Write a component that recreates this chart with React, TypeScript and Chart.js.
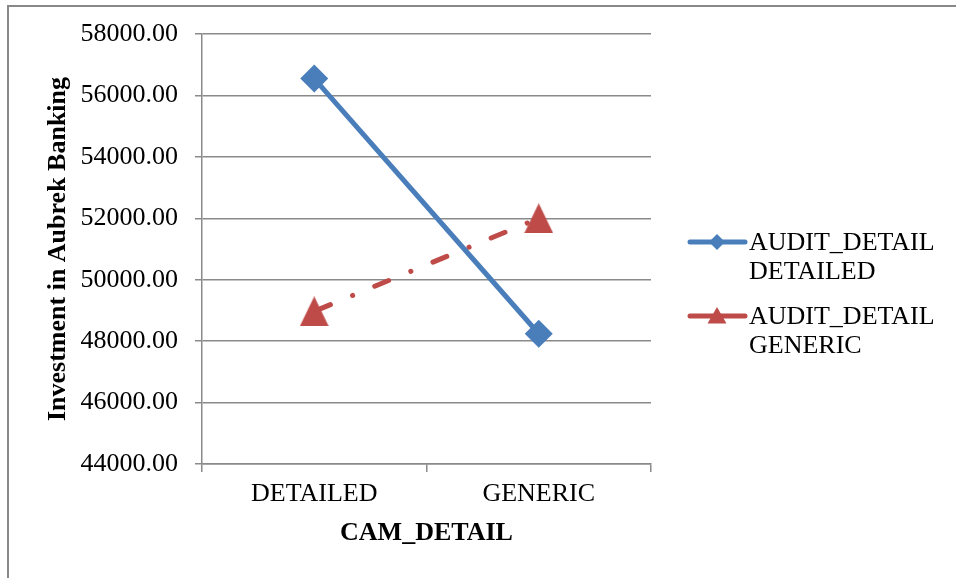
import React, { useEffect, useRef } from 'react';
import { Chart, registerables } from 'chart.js';

Chart.register(...registerables);

const categories = ['DETAILED', 'GENERIC'];
const seriesNames = ['AUDIT_DETAIL DETAILED', 'AUDIT_DETAIL GENERIC'];
const detailedValues = [56550, 48240];
const genericValues = [48970, 52000];
const yMin = 44000;
const yMax = 58000;
const yStep = 2000;
const xTitle = 'CAM_DETAIL';
const yTitle = 'Investment in Aubrek Banking';

const FONT = "'Liberation Serif', 'Times New Roman', serif";
const FS = 26;
const GRID = '#8a8a8a';
const BLUE = '#4a7ebb';
const RED = '#be4b48';

function makeTriangle(w: number, h: number, color: string) {
  const c = document.createElement('canvas');
  c.width = w;
  c.height = h;
  const g = c.getContext('2d')!;
  g.fillStyle = color;
  g.beginPath();
  g.moveTo(w / 2, 0);
  g.lineTo(w, h);
  g.lineTo(0, h);
  g.closePath();
  g.fill();
  return c;
}

const legendPlugin = {
  id: 'customLegend',
  afterDraw(chart: any) {
    const ctx = chart.ctx as CanvasRenderingContext2D;
    ctx.save();
    chart.data.datasets.forEach((ds: any, i: number) => {
      const lineY = 242 + i * 74;
      const x0 = 690;
      const x1 = 745;
      const mx = 717;
      ctx.strokeStyle = ds.borderColor;
      ctx.lineWidth = 5;
      ctx.lineCap = 'round';
      ctx.setLineDash([]);
      ctx.beginPath();
      ctx.moveTo(x0, lineY);
      ctx.lineTo(x1, lineY);
      ctx.stroke();
      ctx.fillStyle = ds.borderColor;
      ctx.beginPath();
      if (i === 0) {
        const r = 8;
        ctx.moveTo(mx - r, lineY);
        ctx.lineTo(mx, lineY - r);
        ctx.lineTo(mx + r, lineY);
        ctx.lineTo(mx, lineY + r);
      } else {
        ctx.moveTo(mx, lineY - 9);
        ctx.lineTo(mx + 9.5, lineY + 7.5);
        ctx.lineTo(mx - 9.5, lineY + 7.5);
      }
      ctx.closePath();
      ctx.fill();
      ctx.fillStyle = '#000';
      ctx.font = `${FS}px ${FONT}`;
      ctx.textAlign = 'left';
      ctx.textBaseline = 'middle';
      const parts = String(ds.label).split(' ');
      parts.forEach((p: string, j: number) => {
        ctx.fillText(p, 749, lineY + 1 + j * 29);
      });
    });
    ctx.restore();
  },
};

export default function App() {
  const ref = useRef<HTMLCanvasElement | null>(null);
  useEffect(() => {
    if (!ref.current) return;
    const tri = makeTriangle(29, 30, RED);
    const chart = new Chart(ref.current, {
      type: 'line',
      data: {
        labels: categories,
        datasets: [
          {
            label: seriesNames[0],
            data: detailedValues,
            borderColor: BLUE,
            backgroundColor: BLUE,
            borderWidth: 5,
            pointStyle: 'rectRot',
            pointRadius: 14,
            pointBorderWidth: 0,
            pointBackgroundColor: BLUE,
            pointBorderColor: BLUE,
            fill: false,
            tension: 0,
          },
          {
            label: seriesNames[1],
            data: genericValues,
            borderColor: RED,
            backgroundColor: RED,
            borderWidth: 5,
            borderDash: [15, 24, 0.1, 23.9],
            borderDashOffset: -2.5,
            borderCapStyle: 'round',
            pointStyle: tri,
            pointRadius: 15,
            pointBorderWidth: 0,
            pointBackgroundColor: RED,
            pointBorderColor: RED,
            fill: false,
            tension: 0,
          },
        ],
      },
      options: {
        animation: false,
        responsive: false,
        devicePixelRatio: 1,
        layout: { padding: { left: 30, top: 34, right: 305, bottom: 29.4 } },
        plugins: {
          legend: { display: false },
          tooltip: { enabled: false },
        },
        scales: {
          x: {
            type: 'category',
            offset: true,
            grid: {
              offset: true,
              drawOnChartArea: false,
              color: GRID,
              lineWidth: 1.5,
              tickLength: 8,
            },
            border: { color: GRID, width: 1.5 },
            ticks: {
              color: '#000',
              font: { family: FONT, size: FS },
              padding: 7,
              maxRotation: 0,
            },
            title: {
              display: true,
              text: xTitle,
              color: '#000',
              font: { family: FONT, size: FS, weight: 'bold' },
              padding: 0,
            },
            afterFit(s: any) {
              s.height = 84.6;
            },
          },
          y: {
            min: yMin,
            max: yMax,
            ticks: {
              stepSize: yStep,
              color: '#000',
              font: { family: FONT, size: FS },
              padding: 17,
              callback: (v: any) => Number(v).toFixed(2),
            },
            grid: { color: GRID, lineWidth: 1.5, tickLength: 7 },
            border: { color: GRID, width: 1.5 },
            title: {
              display: true,
              text: yTitle,
              color: '#000',
              font: { family: FONT, size: FS, weight: 'bold' },
              padding: { top: 12.4, bottom: 0 },
            },
            afterFit(s: any) {
              s.width = 172;
            },
          },
        },
      },
      plugins: [legendPlugin],
    } as any);
    return () => chart.destroy();
  }, []);

  return (
    <div
      style={{
        position: 'fixed',
        left: 0,
        top: 0,
        width: 956,
        height: 578,
        overflow: 'hidden',
        background: '#fff',
      }}
    >
      <div
        style={{
          position: 'absolute',
          left: 7,
          top: 5,
          width: 1200,
          height: 900,
          borderTop: '2px solid #888',
          borderLeft: '2px solid #888',
        }}
      />
      <canvas
        ref={ref}
        width={956}
        height={578}
        style={{ position: 'absolute', left: 0, top: 0, width: 956, height: 578 }}
      />
    </div>
  );
}
